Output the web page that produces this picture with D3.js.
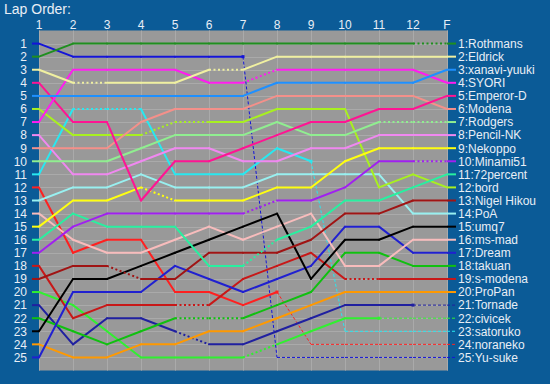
<!DOCTYPE html>
<html>
<head>
<meta charset="utf-8">
<script src="https://cdn.jsdelivr.net/npm/d3@7"></script>
<style>
  body { margin: 0; background: #0b5b97; }
  svg { display: block; font-family: Arial, 'Liberation Sans', sans-serif; }
</style>
</head>
<body>
<svg width="550" height="384"></svg>
<script>
// lap columns (tick labels)
const laps = ['1', '2', '3', '4', '5', '6', '7', '8', '9', '10', '11', '12', 'F']

// drivers in final order
const drivers = ['Rothmans', 'Eldrick', 'xanavi-yuuki', 'SYORI', 'Emperor-D', 'Modena', 'Rodgers',
  'Pencil-NK', 'Nekoppo', 'Minami51', '72percent', 'bord', 'Nigel Hikou', 'PoA', 'umq7', 'ms-mad',
  'Dream', 'takuan', 's-modena', 'ProPan', 'Tornade', 'civicek', 'satoruko', 'noraneko', 'Yu-suke']

// position of each driver at each lap column
const positions = [
  [2, 1, 1, 1, 1, 1, 1, 1, 1, 1, 1, 1, 1],
  [3, 4, 4, 4, 4, 3, 3, 2, 2, 2, 2, 2, 2],
  [5, 5, 5, 5, 5, 5, 5, 4, 4, 4, 4, 4, 3],
  [7, 3, 3, 3, 3, 4, 4, 3, 3, 3, 3, 3, 4],
  [4, 7, 7, 13, 10, 10, 9, 8, 7, 7, 6, 6, 5],
  [9, 9, 9, 7, 6, 6, 6, 5, 5, 5, 5, 5, 6],
  [10, 10, 10, 9, 8, 8, 8, 7, 8, 8, 7, 7, 7],
  [8, 11, 11, 10, 9, 9, 10, 10, 9, 9, 8, 8, 8],
  [15, 13, 13, 12, 13, 13, 13, 12, 12, 10, 9, 9, 9],
  [17, 15, 14, 14, 14, 14, 14, 13, 13, 12, 10, 10, 10],
  [16, 14, 15, 15, 15, 18, 18, 16, 15, 13, 13, 12, 11],
  [6, 8, 8, 8, 7, 7, 7, 6, 6, 6, 12, 11, 12],
  [19, 18, 18, 19, 19, 17, 17, 17, 16, 14, 14, 13, 13],
  [13, 12, 12, 11, 12, 12, 12, 11, 11, 11, 11, 14, 14],
  [23, 19, 19, 18, 17, 16, 15, 14, 19, 16, 16, 15, 15],
  [14, 16, 17, 17, 16, 15, 16, 15, 14, 18, 18, 16, 16],
  [25, 20, 20, 20, 18, 19, 20, 19, 18, 15, 15, 17, 17],
  [22, 23, 24, 23, 22, 22, 22, 21, 20, 17, 17, 18, 18],
  [18, 22, 21, 21, 21, 21, 19, 18, 17, 19, 19, 19, 19],
  [24, 25, 25, 24, 24, 23, 23, 22, 21, 20, 20, 20, 20],
  [21, 24, 22, 22, 23, 24, 24, 23, 22, 21, 21, 21, 21],
  [20, 21, 23, 25, 25, 25, 25, 24, 23, 22, 22, 22, 22],
  [11, 6, 6, 6, 11, 11, 11, 9, 10, 23, 23, 23, 23],
  [12, 17, 16, 16, 20, 20, 21, 20, 24, 24, 24, 24, 24],
  [1, 2, 2, 2, 2, 2, 2, 25, 25, 25, 25, 25, 25]
]

// dotted (pit) segments, by index of the segment's starting column
const pits = [
  [11], [1, 5], [], [6], [], [], [10, 11], [], [3], [6, 11], [6], [3, 4], [2], [], [], [],
  [], [4, 5], [4, 9], [], [4], [6], [1, 2], [], []
]

// last column a driver was running at (null = finished)
const retired = [null, null, null, null, null, null, null, null, null, null, null, null, null,
  null, null, null, null, null, null, null, 11, 10, 8, 7, 6]

const colors = ['#1f8f1f', '#f0f0a0', '#1e90ff', '#ff1cf0', '#ff1493', '#f4908a', '#90ee90',
  '#f088f0', '#ffff10', '#a020f0', '#28f0a0', '#a8f020', '#a01414', '#98f0f0', '#000000', '#f8bcbc',
  '#2020d0', '#10c010', '#c81818', '#ff9900', '#2020a0', '#30f030', '#28e8f0', '#ff2020', '#1414d8']

const svg = d3.select('svg')
const textColor = '#e8eef6'

const x = d3.scalePoint().domain(laps).range([39, 447])
const y = d3.scaleLinear().domain([0, 26]).range([30.5, 370.5])
const ranks = d3.range(1, 26)

// title
svg.append('text')
  .attr('x', 4)
  .attr('y', 13.5)
  .attr('fill', textColor)
  .attr('font-size', 14)
  .text('Lap Order:')

// plot background and grid
svg.append('rect')
  .attr('x', x('1'))
  .attr('y', y(0))
  .attr('width', x('F') - x('1') + 1)
  .attr('height', y(26) - y(0))
  .attr('fill', '#999999')

const grid = svg.append('g').attr('stroke', '#aaaaaa').attr('stroke-width', 1)
grid.selectAll('.h')
  .data(ranks)
  .join('line')
  .attr('x1', x('1'))
  .attr('x2', x('F'))
  .attr('y1', (d) => Math.round(y(d)) + 0.5)
  .attr('y2', (d) => Math.round(y(d)) + 0.5)
grid.selectAll('.v')
  .data(laps)
  .join('line')
  .attr('x1', (d) => Math.round(x(d)) + 0.5)
  .attr('x2', (d) => Math.round(x(d)) + 0.5)
  .attr('y1', y(0))
  .attr('y2', y(26))

// lap labels on top
svg.append('g')
  .selectAll('text')
  .data(laps)
  .join('text')
  .attr('x', (d) => x(d))
  .attr('y', 28.5)
  .attr('text-anchor', 'middle')
  .attr('fill', textColor)
  .attr('font-size', 12)
  .text((d) => d)

// rank labels on the left
svg.append('g')
  .selectAll('text')
  .data(ranks)
  .join('text')
  .attr('x', 27)
  .attr('y', (d) => y(d))
  .attr('dy', '0.36em')
  .attr('text-anchor', 'end')
  .attr('fill', textColor)
  .attr('font-size', 12)
  .text((d) => d)

// driver lines, drawn bottom-up so leaders end up on top
const lines = svg.append('g').attr('fill', 'none')
d3.range(drivers.length).reverse().forEach((i) => {
  const pos = positions[i]
  const color = colors[i]
  const g = lines.append('g').attr('stroke', color)
  const out = retired[i]

  // start tick
  g.append('line')
    .attr('x1', 32).attr('x2', x(laps[0]))
    .attr('y1', y(pos[0])).attr('y2', y(pos[0]))
    .attr('stroke-width', 2)

  for (let k = 0; k < laps.length - 1; k++) {
    const seg = g.append('line')
      .attr('x1', x(laps[k])).attr('y1', y(pos[k]))
      .attr('x2', x(laps[k + 1])).attr('y2', y(pos[k + 1]))
    if (out !== null && k >= out) {
      seg.attr('stroke-width', 1).attr('stroke-dasharray', '3,2')
    } else if (pits[i].includes(k)) {
      seg.attr('stroke-width', 2).attr('stroke-dasharray', '2,2.5')
    } else {
      seg.attr('stroke-width', 2).attr('stroke-linecap', 'round')
    }
  }

  // end tick
  const end = g.append('line')
    .attr('x1', x('F')).attr('x2', 456)
    .attr('y1', y(pos[pos.length - 1])).attr('y2', y(pos[pos.length - 1]))
  if (out !== null) {
    end.attr('stroke-width', 1).attr('stroke-dasharray', '3,2')
    g.append('rect')
      .attr('x', x(laps[out]) - 1.5)
      .attr('y', y(pos[out]) - 1.5)
      .attr('width', 3)
      .attr('height', 3)
      .attr('fill', color)
      .attr('stroke', 'none')
  } else {
    end.attr('stroke-width', 2)
  }
})

// final order labels
svg.append('g')
  .selectAll('text')
  .data(drivers)
  .join('text')
  .attr('x', 458)
  .attr('y', (d, i) => y(positions[i][laps.length - 1]))
  .attr('dy', '0.36em')
  .attr('fill', textColor)
  .attr('font-size', 12)
  .text((d, i) => `${i + 1}:${d}`)
</script>
</body>
</html>
